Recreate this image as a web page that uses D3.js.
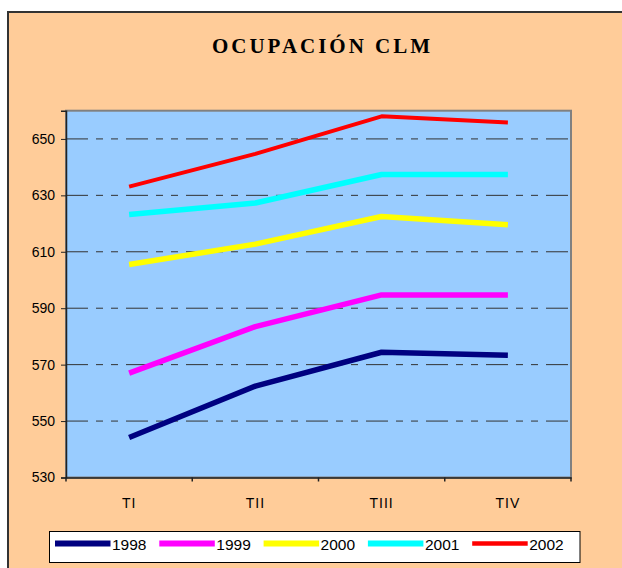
<!DOCTYPE html>
<html><head><meta charset="utf-8">
<script src="https://cdn.jsdelivr.net/npm/d3@7"></script>
<style>body{margin:0;background:#fff;}svg{display:block;}</style>
</head><body>
<svg id="chart" width="622" height="568"></svg>
<script>
const categories = ["TI", "TII", "TIII", "TIV"];
const years = ["1998", "1999", "2000", "2001", "2002"];
const values1998 = [544.2, 562.4, 574.4, 573.3];
const values1999 = [567.0, 583.5, 594.7, 594.7];
const values2000 = [605.5, 612.7, 622.5, 619.6];
const values2001 = [623.2, 627.3, 637.4, 637.4];
const values2002 = [633.1, 644.7, 658.0, 655.8];
const yTicks = [530, 550, 570, 590, 610, 630, 650];
const seriesColors = ["#000080", "#FF00FF", "#FFFF00", "#00FFFF", "#FF0000"];
const seriesWidths = [5.5, 5.5, 5.5, 5.5, 4];

const series = years.map((y, i) => ({
  name: y,
  values: [values1998, values1999, values2000, values2001, values2002][i],
  color: seriesColors[i],
  width: seriesWidths[i]
}));

const svg = d3.select("#chart");
// outer frame
svg.append("rect").attr("x", 8).attr("y", 12).attr("width", 700).attr("height", 700)
  .attr("fill", "#FFCC99").attr("stroke", "#333").attr("stroke-width", 2);

// title
svg.append("text").attr("x", 321).attr("y", 52.5).attr("text-anchor", "middle")
  .attr("font-family", "Liberation Serif, Times New Roman, serif").attr("font-weight", "bold")
  .attr("font-size", 21).attr("textLength", 218).attr("lengthAdjust", "spacing")
  .attr("fill", "#000").text("OCUPACIÓN CLM");

const L = 66, R = 571, T = 110.7, B = 477.5;
const x = d3.scaleBand().domain(categories).range([L, R]);
const y = d3.scaleLinear().domain([530, 660]).range([B, T]);

// plot area
svg.append("rect").attr("x", L).attr("y", T).attr("width", R - L).attr("height", B - T)
  .attr("fill", "#99CCFF").attr("stroke", "#808080").attr("stroke-width", 2);

// gridlines
svg.append("g").selectAll("line").data(yTicks.filter(d => d > 530)).join("line")
  .attr("x1", L).attr("x2", R - 1).attr("y1", d => y(d)).attr("y2", d => y(d))
  .attr("stroke", "#333").attr("stroke-width", 1)
  .attr("stroke-dasharray", "22,8,7,8,7,8");

// y axis
const yAxis = svg.append("g").attr("transform", `translate(${L},0)`)
  .call(d3.axisLeft(y).tickValues(yTicks).tickSize(5).tickPadding(6));
yAxis.select(".domain").attr("stroke", "#222").attr("stroke-width", 1.5);
yAxis.selectAll(".tick line").attr("stroke", "#222");
yAxis.selectAll("text").attr("font-family", "Liberation Sans, Arial, sans-serif")
  .attr("font-size", 14).attr("fill", "#000");

// x axis
const xAxis = svg.append("g").attr("transform", `translate(0,${B})`)
  .call(d3.axisBottom(x).tickSize(0).tickPadding(21));
xAxis.select(".domain").attr("stroke", "#222").attr("stroke-width", 1.5);
xAxis.selectAll("text").attr("font-family", "Liberation Sans, Arial, sans-serif")
  .attr("font-size", 14).attr("fill", "#000").attr("letter-spacing", 1);
// category boundary ticks
svg.append("g").selectAll("line").data(categories.concat(["end"])).join("line")
  .attr("x1", (d, i) => i < categories.length ? x(d) : x(categories[categories.length-1]) + x.bandwidth())
  .attr("x2", (d, i) => i < categories.length ? x(d) : x(categories[categories.length-1]) + x.bandwidth())
  .attr("y1", B).attr("y2", B + 4).attr("stroke", "#222").attr("stroke-width", 1.5);

// lines
const line = d3.line().x((d, i) => x(categories[i]) + x.bandwidth() / 2).y(d => y(d));
svg.append("g").selectAll("path").data(series).join("path")
  .attr("d", d => line(d.values)).attr("fill", "none")
  .attr("stroke", d => d.color).attr("stroke-width", d => d.width)
  .attr("stroke-linejoin", "round");

// legend
svg.append("rect").attr("x", 49.5).attr("y", 531.5).attr("width", 530.5).attr("height", 31)
  .attr("fill", "#fff").attr("stroke", "#000").attr("stroke-width", 1);
const leg = svg.append("g").selectAll("g").data(series).join("g")
  .attr("transform", (d, i) => `translate(${55 + i * 104.3},0)`);
leg.append("line").attr("x1", 0).attr("x2", 55.5).attr("y1", 543.5).attr("y2", 543.5)
  .attr("stroke", d => d.color).attr("stroke-width", d => d.width === 4 ? 4.5 : 6);
leg.append("text").attr("x", 57).attr("y", 550)
  .attr("font-family", "Liberation Sans, Arial, sans-serif").attr("font-size", 15.5)
  .attr("fill", "#000").text(d => d.name);
</script>
</body></html>
